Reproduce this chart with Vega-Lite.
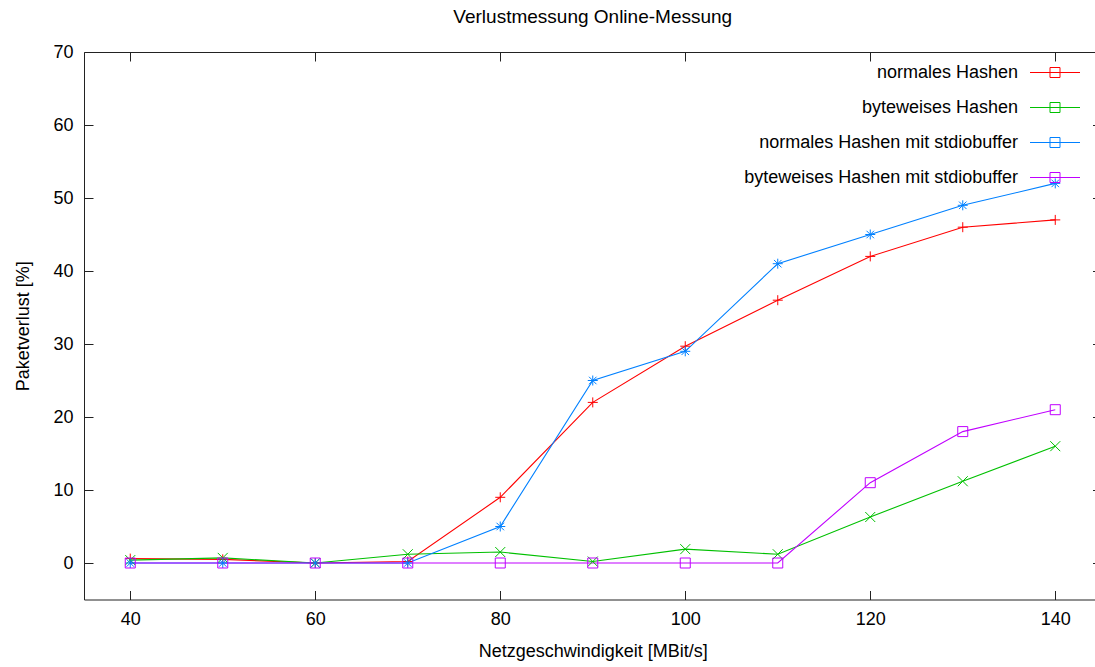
{
  "$schema": "https://vega.github.io/schema/vega-lite/v6.json",
  "width": 1017.5,
  "height": 547.5,
  "autosize": {"type": "none"},
  "padding": {"left": 84, "top": 52, "right": 0, "bottom": 67},
  "background": "white",
  "title": {"text": "Verlustmessung Online-Messung", "fontSize": 19, "fontWeight": "normal", "font": "Liberation Sans", "color": "#000", "offset": 16},
  "config": {
    "view": {"stroke": "#222", "strokeWidth": 1},
    "axis": {"domain": false, "grid": false, "tickColor": "#222", "tickSize": -9, "tickWidth": 1,
      "labelFont": "Liberation Sans", "labelFontSize": 18, "labelColor": "#000", "labelPadding": 20,
      "titleFont": "Liberation Sans", "titleFontSize": 18, "titleFontWeight": "normal", "titleColor": "#000"},
    "point": {"filled": false, "size": 100, "strokeWidth": 1, "opacity": 1}
  },
  "data": {"values": [
    {"x": 40, "y": 0.6, "s": "normales Hashen"},
    {"x": 50, "y": 0.5, "s": "normales Hashen"},
    {"x": 60, "y": 0, "s": "normales Hashen"},
    {"x": 70, "y": 0.2, "s": "normales Hashen"},
    {"x": 80, "y": 9, "s": "normales Hashen"},
    {"x": 90, "y": 22, "s": "normales Hashen"},
    {"x": 100, "y": 29.7, "s": "normales Hashen"},
    {"x": 110, "y": 36, "s": "normales Hashen"},
    {"x": 120, "y": 42, "s": "normales Hashen"},
    {"x": 130, "y": 46, "s": "normales Hashen"},
    {"x": 140, "y": 47, "s": "normales Hashen"},
    {"x": 40, "y": 0.4, "s": "byteweises Hashen"},
    {"x": 50, "y": 0.7, "s": "byteweises Hashen"},
    {"x": 60, "y": 0, "s": "byteweises Hashen"},
    {"x": 70, "y": 1.2, "s": "byteweises Hashen"},
    {"x": 80, "y": 1.5, "s": "byteweises Hashen"},
    {"x": 90, "y": 0.2, "s": "byteweises Hashen"},
    {"x": 100, "y": 1.9, "s": "byteweises Hashen"},
    {"x": 110, "y": 1.2, "s": "byteweises Hashen"},
    {"x": 120, "y": 6.3, "s": "byteweises Hashen"},
    {"x": 130, "y": 11.2, "s": "byteweises Hashen"},
    {"x": 140, "y": 16, "s": "byteweises Hashen"},
    {"x": 40, "y": 0, "s": "normales Hashen mit stdiobuffer"},
    {"x": 50, "y": 0, "s": "normales Hashen mit stdiobuffer"},
    {"x": 60, "y": 0, "s": "normales Hashen mit stdiobuffer"},
    {"x": 70, "y": 0, "s": "normales Hashen mit stdiobuffer"},
    {"x": 80, "y": 5, "s": "normales Hashen mit stdiobuffer"},
    {"x": 90, "y": 25, "s": "normales Hashen mit stdiobuffer"},
    {"x": 100, "y": 29, "s": "normales Hashen mit stdiobuffer"},
    {"x": 110, "y": 41, "s": "normales Hashen mit stdiobuffer"},
    {"x": 120, "y": 45, "s": "normales Hashen mit stdiobuffer"},
    {"x": 130, "y": 49, "s": "normales Hashen mit stdiobuffer"},
    {"x": 140, "y": 52, "s": "normales Hashen mit stdiobuffer"},
    {"x": 40, "y": 0, "s": "byteweises Hashen mit stdiobuffer"},
    {"x": 50, "y": 0, "s": "byteweises Hashen mit stdiobuffer"},
    {"x": 60, "y": 0, "s": "byteweises Hashen mit stdiobuffer"},
    {"x": 70, "y": 0, "s": "byteweises Hashen mit stdiobuffer"},
    {"x": 80, "y": 0, "s": "byteweises Hashen mit stdiobuffer"},
    {"x": 90, "y": 0, "s": "byteweises Hashen mit stdiobuffer"},
    {"x": 100, "y": 0, "s": "byteweises Hashen mit stdiobuffer"},
    {"x": 110, "y": 0, "s": "byteweises Hashen mit stdiobuffer"},
    {"x": 120, "y": 11, "s": "byteweises Hashen mit stdiobuffer"},
    {"x": 130, "y": 18, "s": "byteweises Hashen mit stdiobuffer"},
    {"x": 140, "y": 21, "s": "byteweises Hashen mit stdiobuffer"}
  ]},
  "layer": [
    {
      "layer": [
        {
          "mark": {"type": "line", "strokeWidth": 1.1},
          "encoding": {
            "x": {"field": "x", "type": "quantitative", "scale": {"domain": [35, 145], "nice": false, "zero": false},
              "axis": {"values": [40, 60, 80, 100, 120, 140], "title": "Netzgeschwindigkeit [MBit/s]", "titlePadding": 14}},
            "y": {"field": "y", "type": "quantitative", "scale": {"domain": [-5, 70], "nice": false, "zero": false},
              "axis": {"values": [0, 10, 20, 30, 40, 50, 60, 70], "title": "Paketverlust [%]", "titlePadding": 20}},
            "color": {"field": "s", "type": "nominal",
              "scale": {"domain": ["normales Hashen", "byteweises Hashen", "normales Hashen mit stdiobuffer", "byteweises Hashen mit stdiobuffer"],
                "range": ["#ff0000", "#00c000", "#0080ff", "#c000ff"]},
              "legend": {"title": null, "orient": "none", "legendX": 945.5, "legendY": -5, "padding": 0,
                "labelAlign": "right", "labelOffset": -62.5, "labelFont": "Liberation Sans", "labelFontSize": 18, "labelColor": "#000",
                "labelLimit": 500, "symbolSize": 2500, "symbolStrokeWidth": 1, "rowPadding": -13,
                "encode": {"symbols": {"update": {"shape": {
                  "condition": [
                    {"test": "datum.index === 0 || datum.label === 'normales Hashen'", "value": "M-1,0L1,0M0,-0.2L0,0.2"},
                    {"test": "datum.index === 1 || datum.label === 'byteweises Hashen'", "value": "M-1,0L1,0M-0.2,-0.2L0.2,0.2M-0.2,0.2L0.2,-0.2"},
                    {"test": "datum.index === 2 || datum.label === 'normales Hashen mit stdiobuffer'", "value": "M-1,0L1,0M0,-0.24L0,0.24M-0.2,-0.2L0.2,0.2M-0.2,0.2L0.2,-0.2"}
                  ],
                  "value": "M-1,0L1,0M-0.2,-0.2H0.2V0.2H-0.2Z"}}}}}}
          }
        },
        {
          "transform": [{"filter": {"field": "s", "equal": "normales Hashen"}}],
          "mark": {"type": "point", "shape": "M-1,0L1,0M0,-1L0,1"},
          "encoding": {"x": {"field": "x", "type": "quantitative"}, "y": {"field": "y", "type": "quantitative"}, "color": {"field": "s", "type": "nominal"}}
        },
        {
          "transform": [{"filter": {"field": "s", "equal": "byteweises Hashen"}}],
          "mark": {"type": "point", "shape": "M-1,-1L1,1M-1,1L1,-1"},
          "encoding": {"x": {"field": "x", "type": "quantitative"}, "y": {"field": "y", "type": "quantitative"}, "color": {"field": "s", "type": "nominal"}}
        },
        {
          "transform": [{"filter": {"field": "s", "equal": "normales Hashen mit stdiobuffer"}}],
          "mark": {"type": "point", "shape": "M-1,0L1,0M0,-1L0,1M-0.75,-0.75L0.75,0.75M-0.75,0.75L0.75,-0.75"},
          "encoding": {"x": {"field": "x", "type": "quantitative"}, "y": {"field": "y", "type": "quantitative"}, "color": {"field": "s", "type": "nominal"}}
        },
        {
          "transform": [{"filter": {"field": "s", "equal": "byteweises Hashen mit stdiobuffer"}}],
          "mark": {"type": "point", "shape": "M-1,-1H1V1H-1Z"},
          "encoding": {"x": {"field": "x", "type": "quantitative"}, "y": {"field": "y", "type": "quantitative"}, "color": {"field": "s", "type": "nominal"}}
        }
      ]
    },
    {
      "mark": {"type": "point", "opacity": 0},
      "encoding": {
        "x": {"field": "x", "type": "quantitative", "axis": {"orient": "top", "values": [40, 60, 80, 100, 120, 140], "labels": false, "title": null}},
        "y": {"field": "y", "type": "quantitative", "axis": {"orient": "right", "values": [0, 10, 20, 30, 40, 50, 60, 70], "labels": false, "title": null}}
      }
    }
  ],
  "resolve": {"axis": {"x": "independent", "y": "independent"}}
}
